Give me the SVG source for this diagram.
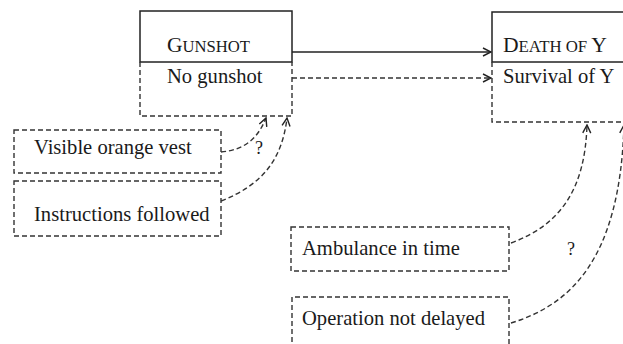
<svg xmlns="http://www.w3.org/2000/svg" width="623" height="344" viewBox="0 0 623 344">
<style>
text{font-family:"Liberation Serif","Times New Roman",serif;font-size:20.6px;fill:#1a1a1a}
.sc{font-size:16px}
.q{font-size:18px}
.solid{fill:none;stroke:#222;stroke-width:1.5}
.dash{fill:none;stroke:#333;stroke-width:1.4;stroke-dasharray:5,3}
.con{fill:none;stroke:#333;stroke-width:1.4;stroke-dasharray:5,3}
</style>
<defs>
<marker id="chev" viewBox="0 0 10 10" refX="9" refY="5" markerWidth="10" markerHeight="10" markerUnits="userSpaceOnUse" orient="auto">
<polyline points="1,1 9,5 1,9" fill="none" stroke="#222" stroke-width="1.4"/>
</marker>
</defs>
<g id="gunshot">
<rect class="solid" x="140" y="11" width="152" height="51"/>
<text x="167" y="52" textLength="83" lengthAdjust="spacingAndGlyphs">G<tspan class="sc">UNSHOT</tspan></text>
</g>
<g id="no-gunshot">
<path class="dash" d="M140,62 V116 H292 V62"/>
<text x="167" y="83">No gunshot</text>
</g>
<g id="death">
<rect class="solid" x="492" y="12" width="140" height="50"/>
<text x="503" y="52" textLength="104" lengthAdjust="spacingAndGlyphs">D<tspan class="sc">EATH OF </tspan>Y</text>
</g>
<g id="survival">
<path class="dash" d="M492,62 V122 H630"/>
<text x="503" y="83">Survival of Y</text>
</g>
<g id="vest">
<rect class="dash" x="14" y="130" width="207" height="43"/>
<text x="34" y="154">Visible orange vest</text>
</g>
<g id="instructions">
<rect class="dash" x="14" y="181" width="207" height="55"/>
<text x="34" y="221">Instructions followed</text>
</g>
<g id="ambulance">
<rect class="dash" x="291" y="227" width="218" height="44"/>
<text x="302" y="255">Ambulance in time</text>
</g>
<g id="operation">
<path class="dash" d="M292,350 V297 H509 V350"/>
<text x="302" y="325">Operation not delayed</text>
</g>
<g id="connectors">
<path class="solid" d="M292,52 H491" marker-end="url(#chev)"/>
<path class="con" d="M292,78 H491" marker-end="url(#chev)"/>
<path class="con" d="M221,152 C245,150 258,138 266,118" marker-end="url(#chev)"/>
<path class="con" d="M221,201 C262,185 282,160 287,118" marker-end="url(#chev)"/>
<path class="con" d="M511,243 C560,225 585,190 587,125" marker-end="url(#chev)"/>
<path class="con" d="M511,323 C570,305 620,260 624,125" marker-end="url(#chev)"/>
<text class="q" x="255" y="154">?</text>
<text class="q" x="567" y="255">?</text>
</g>
</svg>
